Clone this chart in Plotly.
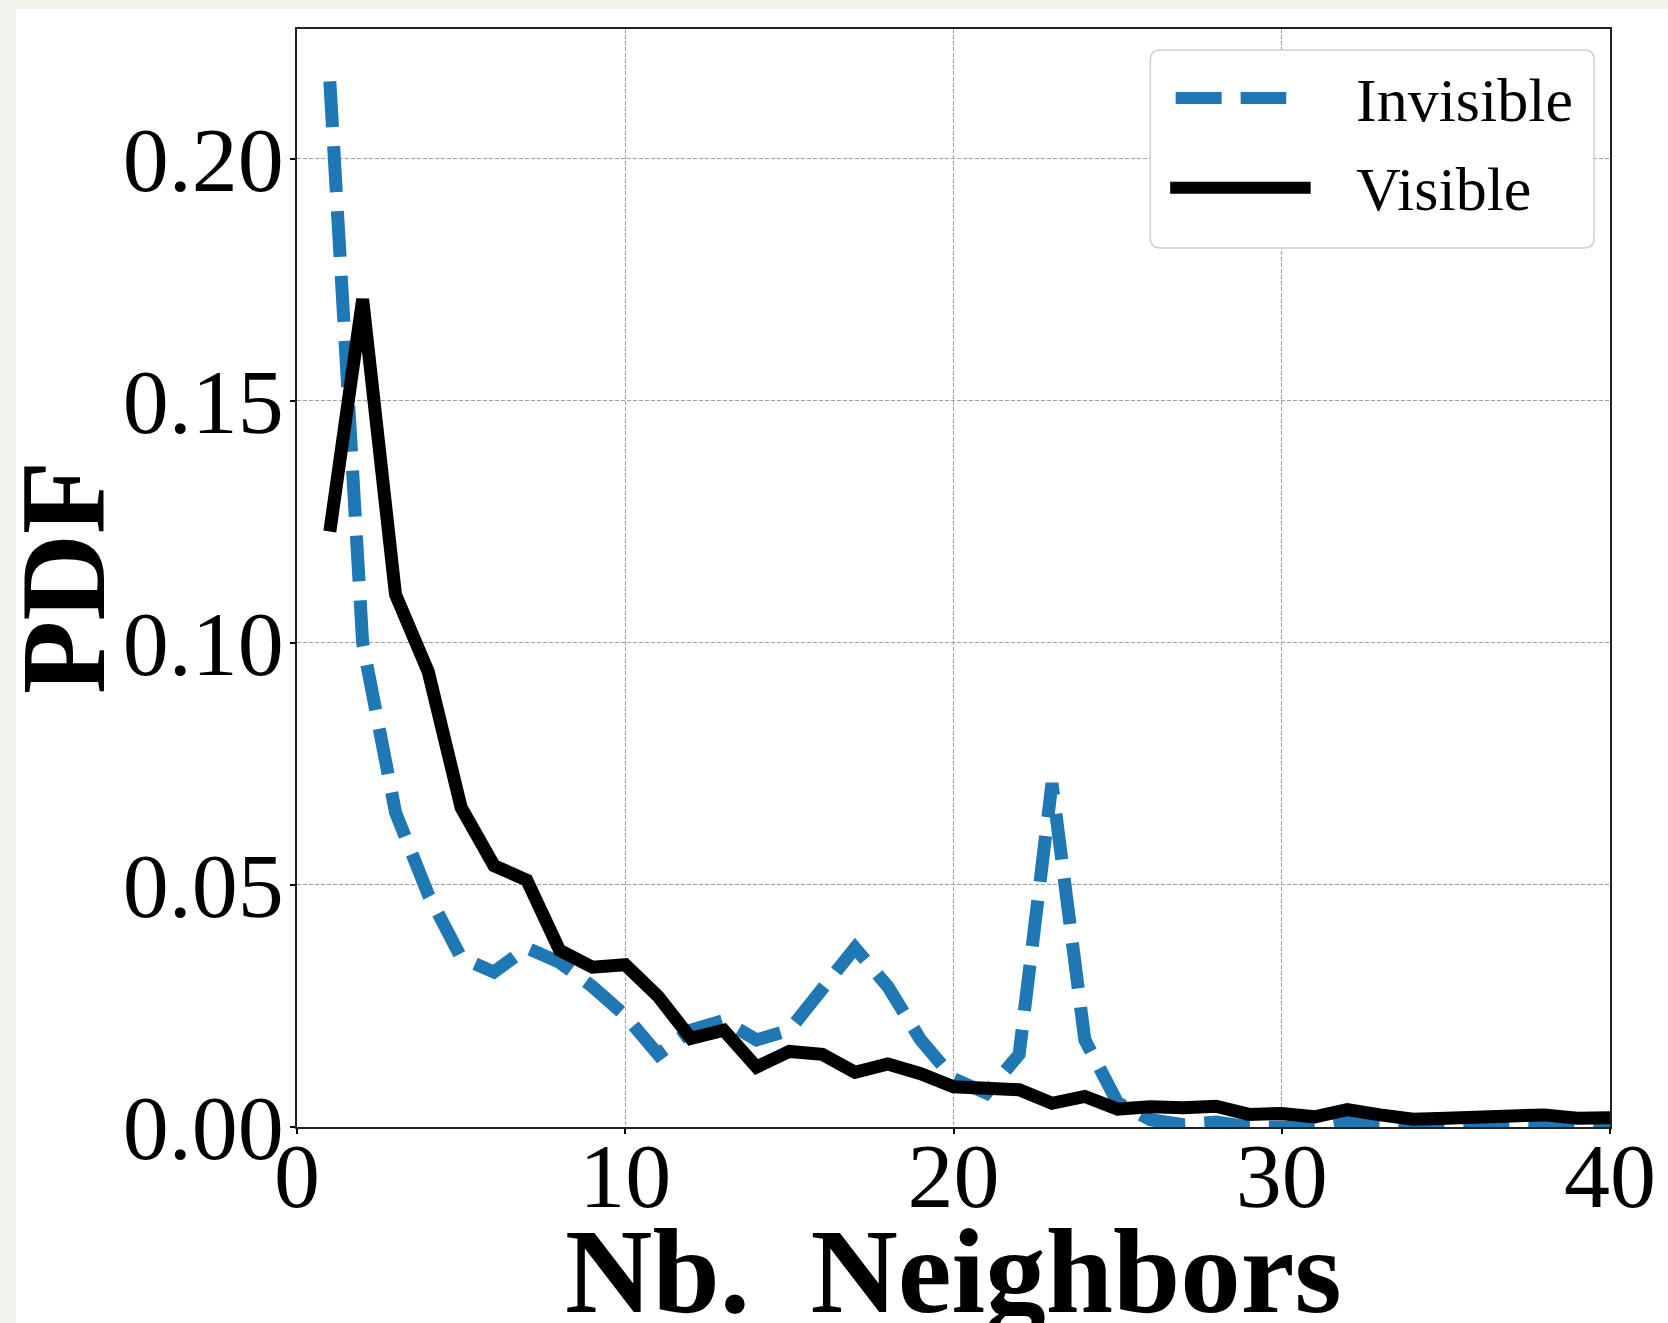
import plotly.graph_objects as go

# ---- data ----
nb_neighbors = list(range(1, 41))
invisible = [0.216, 0.100, 0.065, 0.048, 0.035, 0.032, 0.037, 0.034, 0.029, 0.023,
             0.015, 0.020, 0.022, 0.018, 0.020, 0.028, 0.037, 0.029, 0.018, 0.010,
             0.007, 0.015, 0.071, 0.018, 0.005, 0.0015, 0.0005, 0.001, 0.0, 0.0,
             0.0, 0.001, 0.0003, 0.0, 0.0, 0.0, 0.0003, 0.0003, 0.0, 0.0]
visible = [0.123, 0.171, 0.110, 0.094, 0.066, 0.054, 0.051, 0.0365, 0.033, 0.0335,
           0.027, 0.0183, 0.020, 0.0124, 0.0156, 0.015, 0.0113, 0.013, 0.011, 0.0083,
           0.008, 0.0077, 0.0049, 0.0063, 0.0037, 0.0042, 0.004, 0.0043, 0.0026, 0.0028,
           0.0021, 0.0036, 0.0025, 0.0016, 0.0018, 0.002, 0.0018, 0.0025, 0.0018, 0.0019]
x_ticks = [0, 10, 20, 30, 40]
y_ticks = [0.00, 0.05, 0.10, 0.15, 0.20]
series_names = ["Invisible", "Visible"]

W, H = 1668, 1323
L, R, T, B = 297, 53, 29, 196
PW, PH = W - L - R, H - T - B

def px(xp):
    return (xp - L) / PW

def py(yp):
    return (H - B - yp) / PH

FONT = "Liberation Serif"
BLUE = "#1f77b4"
LW = 13

fig = go.Figure()
fig.add_trace(go.Scatter(x=nb_neighbors, y=invisible, mode="lines", name=series_names[0],
                         line=dict(color=BLUE, width=LW, dash="46px,19px"),
                         showlegend=False))
fig.add_trace(go.Scatter(x=nb_neighbors, y=visible, mode="lines", name=series_names[1],
                         line=dict(color="black", width=LW),
                         showlegend=False))

shapes = []
# white page over off-white backdrop
shapes.append(dict(type="rect", xref="paper", yref="paper", layer="below",
                   x0=px(15), x1=px(W + 5), y0=py(H + 5), y1=py(9),
                   fillcolor="white", line=dict(width=0)))

# legend box (rounded)
bx0, bx1, by0, by1, r = 1153.6, 1599, 50, 248, 10
rx, ry = r / PW, r / PH
X0, X1, Y0, Y1 = px(bx0), px(bx1), py(by1), py(by0)
path = (f"M{X0+rx},{Y0} L{X1-rx},{Y0} Q{X1},{Y0} {X1},{Y0+ry} "
        f"L{X1},{Y1-ry} Q{X1},{Y1} {X1-rx},{Y1} L{X0+rx},{Y1} "
        f"Q{X0},{Y1} {X0},{Y1-ry} L{X0},{Y0+ry} Q{X0},{Y0} {X0+rx},{Y0} Z")
shapes.append(dict(type="path", xref="paper", yref="paper", layer="above", path=path,
                   fillcolor="white", line=dict(color="#d0d0d0", width=1.5)))
# legend samples
shapes.append(dict(type="line", xref="paper", yref="paper", layer="above",
                   x0=px(1179), x1=px(1290), y0=py(98), y1=py(98),
                   line=dict(color=BLUE, width=12, dash="46px,19px")))
shapes.append(dict(type="line", xref="paper", yref="paper", layer="above",
                   x0=px(1173.5), x1=px(1314.5), y0=py(187.7), y1=py(187.7),
                   line=dict(color="black", width=12)))

annotations = [
    dict(text=series_names[0], xref="paper", yref="paper", x=px(1358), y=py(99.5),
         xanchor="left", yanchor="middle", showarrow=False,
         font=dict(family=FONT, size=62, color="black")),
    dict(text=series_names[1], xref="paper", yref="paper", x=px(1358), y=py(188.7),
         xanchor="left", yanchor="middle", showarrow=False,
         font=dict(family=FONT, size=62, color="black")),
    dict(text="<b>Nb.\u2002Neighbors</b>", xref="paper", yref="paper", x=0.5, y=py(1272),
         xanchor="center", yanchor="middle", showarrow=False,
         font=dict(family=FONT, size=121, color="black")),
    dict(text="<b>PDF</b>", xref="paper", yref="paper", x=px(62), y=py(577),
         xanchor="center", yanchor="middle", showarrow=False, textangle=-90,
         font=dict(family=FONT, size=120, color="black")),
]

axis_common = dict(
    showline=True, linecolor="#222222", linewidth=1.5, mirror=True,
    ticks="outside", ticklen=5, tickwidth=1.5, tickcolor="black",
    showgrid=True, gridcolor="#a0a0a0", gridwidth=1.2, griddash="4px,2px",
    zeroline=False,
    tickfont=dict(family=FONT, size=92, color="black"),
)

fig.update_layout(
    width=W, height=H,
    margin=dict(l=L, r=R, t=T, b=B),
    paper_bgcolor="#f3f1ec", plot_bgcolor="white",
    xaxis=dict(range=[0, 40], tickvals=x_ticks, ticktext=[str(v) for v in x_ticks],
               ticklabelstandoff=-37, **axis_common),
    yaxis=dict(range=[0, 0.2268], tickvals=y_ticks, ticktext=[f"{v:.2f}" for v in y_ticks],
               ticklabelstandoff=-12, **axis_common),
    shapes=shapes,
    annotations=annotations,
    showlegend=False,
)

fig.write_html("out.html")
